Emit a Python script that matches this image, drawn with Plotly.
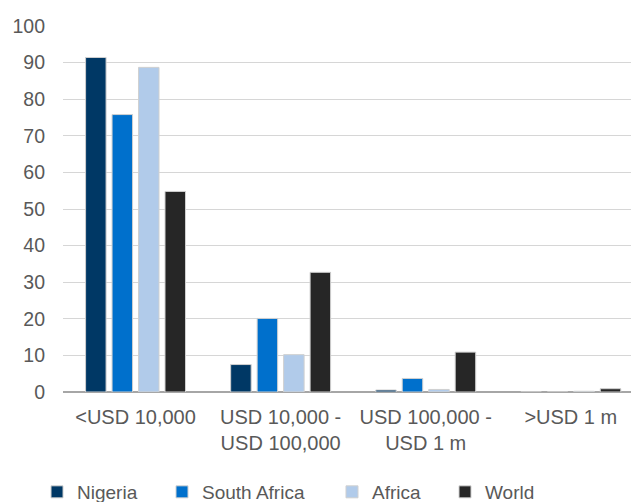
import plotly.graph_objects as go

# Categories and series values
categories = ["<USD 10,000", "USD 10,000 -<br>USD 100,000", "USD 100,000 -<br>USD 1 m", ">USD 1 m"]
nigeria = [91.4, 7.5, 0.55, 0.0]
south_africa = [75.8, 20.1, 3.7, 0.0]
africa = [88.7, 10.2, 0.7, 0.2]
world = [54.8, 32.7, 10.9, 0.9]

series = [
    ("Nigeria", nigeria, "#003865"),
    ("South Africa", south_africa, "#0070cc"),
    ("Africa", africa, "#b1cbea"),
    ("World", world, "#262626"),
]
# one small legend per series so the entries can be spaced like the original
legend_x = [-0.0451, 0.1719, 0.4670, 0.6632]

fig = go.Figure()
legends = {}
for i, (name, vals, color) in enumerate(series):
    key = "legend" if i == 0 else f"legend{i + 1}"
    fig.add_trace(go.Bar(
        x=categories, y=vals, name=name, legend=key, showlegend=True,
        marker=dict(color=color, line=dict(color="#d0d0d0", width=1)),
    ))
    legends[key] = dict(
        x=legend_x[i], xanchor="left", y=-0.2732, yanchor="middle",
        orientation="h", font=dict(size=19), itemwidth=30,
        bgcolor="rgba(0,0,0,0)",
    )

# page body has an 8px margin, so the figure is 8px smaller than the window
fig.update_layout(
    width=631, height=494,
    showlegend=True,
    barmode="group",
    bargap=0.27,
    bargroupgap=0.226,
    plot_bgcolor="white",
    paper_bgcolor="white",
    font=dict(family="Liberation Sans, Arial, sans-serif", size=20, color="#595959"),
    margin=dict(l=55, r=0, t=18, b=110, autoexpand=False),
    yaxis=dict(
        range=[0, 100], dtick=10, automargin=False,
        showgrid=True, gridcolor="#d6d6d6", gridwidth=1,
        zeroline=True, zerolinecolor="#a6a6a6", zerolinewidth=1.5,
        ticks="", ticklabelstandoff=17, tickfont=dict(size=19.5),
    ),
    xaxis=dict(range=[-0.5, 3.47], showgrid=False, ticks="", showline=False,
               automargin=False, ticklabelstandoff=11),
    **legends,
)

fig.write_html("out.html")
